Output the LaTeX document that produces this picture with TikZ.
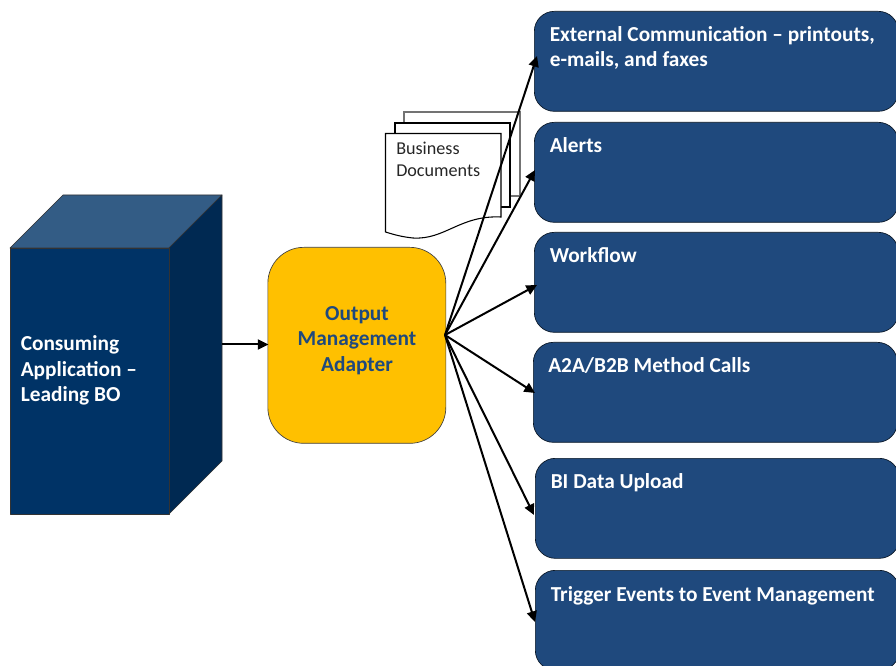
\documentclass[tikz,border=0pt]{standalone}
\usepackage{fontspec}
\setmainfont{Carlito}
\usetikzlibrary{arrows.meta,shapes.multipart}
\definecolor{boxblue}{HTML}{1F497D}
\definecolor{cubefront}{HTML}{003366}
\definecolor{cubetop}{HTML}{335C85}
\definecolor{cubeside}{HTML}{002952}
\definecolor{adapter}{HTML}{FFC000}
\tikzset{
  x=0.75pt,y=-0.75pt,
  targetbox/.style={draw=black!70!boxblue,line width=0.5pt,fill=boxblue,rounded corners=15pt,minimum width=273pt,minimum height=75pt,anchor=north west,inner sep=0pt},
  boxlabel/.style={anchor=base west,inner sep=0pt,text=white,font=\fontsize{16}{16}\selectfont\bfseries,align=left},
  cubeface/.style={draw=black!80,line width=0.5pt,line join=round},
  sheet/.style={draw=black,fill=white,line width=0.8pt},
  arrowline/.style={draw=black,line width=1.5pt,-{Triangle[length=8pt,width=7.5pt]}},
}
\begin{document}
\begin{tikzpicture}
\useasboundingbox (0,0) rectangle (896,666);
\clip (0,0) rectangle (896,666);
% cube
\draw[cubeface,fill=cubetop] (10,248) -- (63,195) -- (222,195) -- (169,248) -- cycle;
\draw[cubeface,fill=cubeside] (169,248) -- (222,195) -- (222,461) -- (169,514) -- cycle;
\node[cubeface,fill=cubefront,draw,minimum width=119.25pt,minimum height=199.5pt,anchor=north west,inner sep=0pt] (cube) at (10,248) {};
\node[anchor=north west,inner sep=0pt,text=white,font=\fontsize{16}{19}\selectfont\bfseries,align=left] (cubetext) at (20.5,335.5) {Consuming\\Application –\\Leading BO};
% adapter
\node[draw=black!75,line width=0.5pt,fill=adapter,rounded corners=27pt,minimum width=133.5pt,minimum height=147pt,anchor=north west,inner sep=0pt] (oma) at (267.5,247) {};
\node[inner sep=0pt,text=boxblue,font=\fontsize{16}{19}\selectfont\bfseries,align=center] (omatext) at (357,340.5) {Output\\Management\\Adapter};
% documents
\draw[sheet,draw=black!55] (404,112) -- (520,112) -- (520,196) -- (404,196) -- cycle;
\draw[sheet] (395,123) -- (510,123) -- (510,207) -- (395,207) -- cycle;
\draw[sheet] (385.5,133.5) -- (501,133.5) -- (501,217) .. controls (460,215) and (445,240) .. (413,238) .. controls (403,237) and (395,235) .. (385.5,232) -- cycle;
\node[anchor=north west,inner sep=0pt,text=black!85,font=\fontsize{13.6}{17}\selectfont,align=left] (doctext) at (396,141.5) {Business\\Documents};
% target boxes
\node[targetbox] (b1) at (534,11) {};
\node[targetbox] (b2) at (534,122) {};
\node[targetbox] (b3) at (534,232) {};
\node[targetbox] (b4) at (533,342) {};
\node[targetbox] (b5) at (535,458) {};
\node[targetbox] (b6) at (535,570) {};
\node[boxlabel] (t1) at (549.5,41.5) {External Communication – printouts,};
\node[boxlabel] (t1b) at (549.5,66.5) {e-mails, and faxes};
\node[boxlabel] (t2) at (549.5,152.5) {Alerts};
\node[boxlabel] (t3) at (549.5,262.5) {Workflow};
\node[boxlabel] (t4) at (548,372.5) {A2A/B2B Method Calls};
\node[boxlabel] (t5) at (550.5,488.5) {BI Data Upload};
\node[boxlabel] (t6) at (550.5,601) {Trigger Events to Event Management};
% connectors
\coordinate (hub) at (445,335);
\coordinate (e1) at (537,56);
\coordinate (e2) at (535,170);
\coordinate (e3) at (537,285);
\coordinate (e4) at (535,393);
\coordinate (e5) at (534,515);
\coordinate (e6) at (535,622);
\coordinate (c1) at (222,344.5);
\coordinate (c2) at (268.5,344.5);
\draw[arrowline] (c1) -- (c2);
\foreach \e in {e1,e2,e3,e4,e5,e6} \draw[arrowline] (hub) -- (\e);
\end{tikzpicture}
\end{document}
